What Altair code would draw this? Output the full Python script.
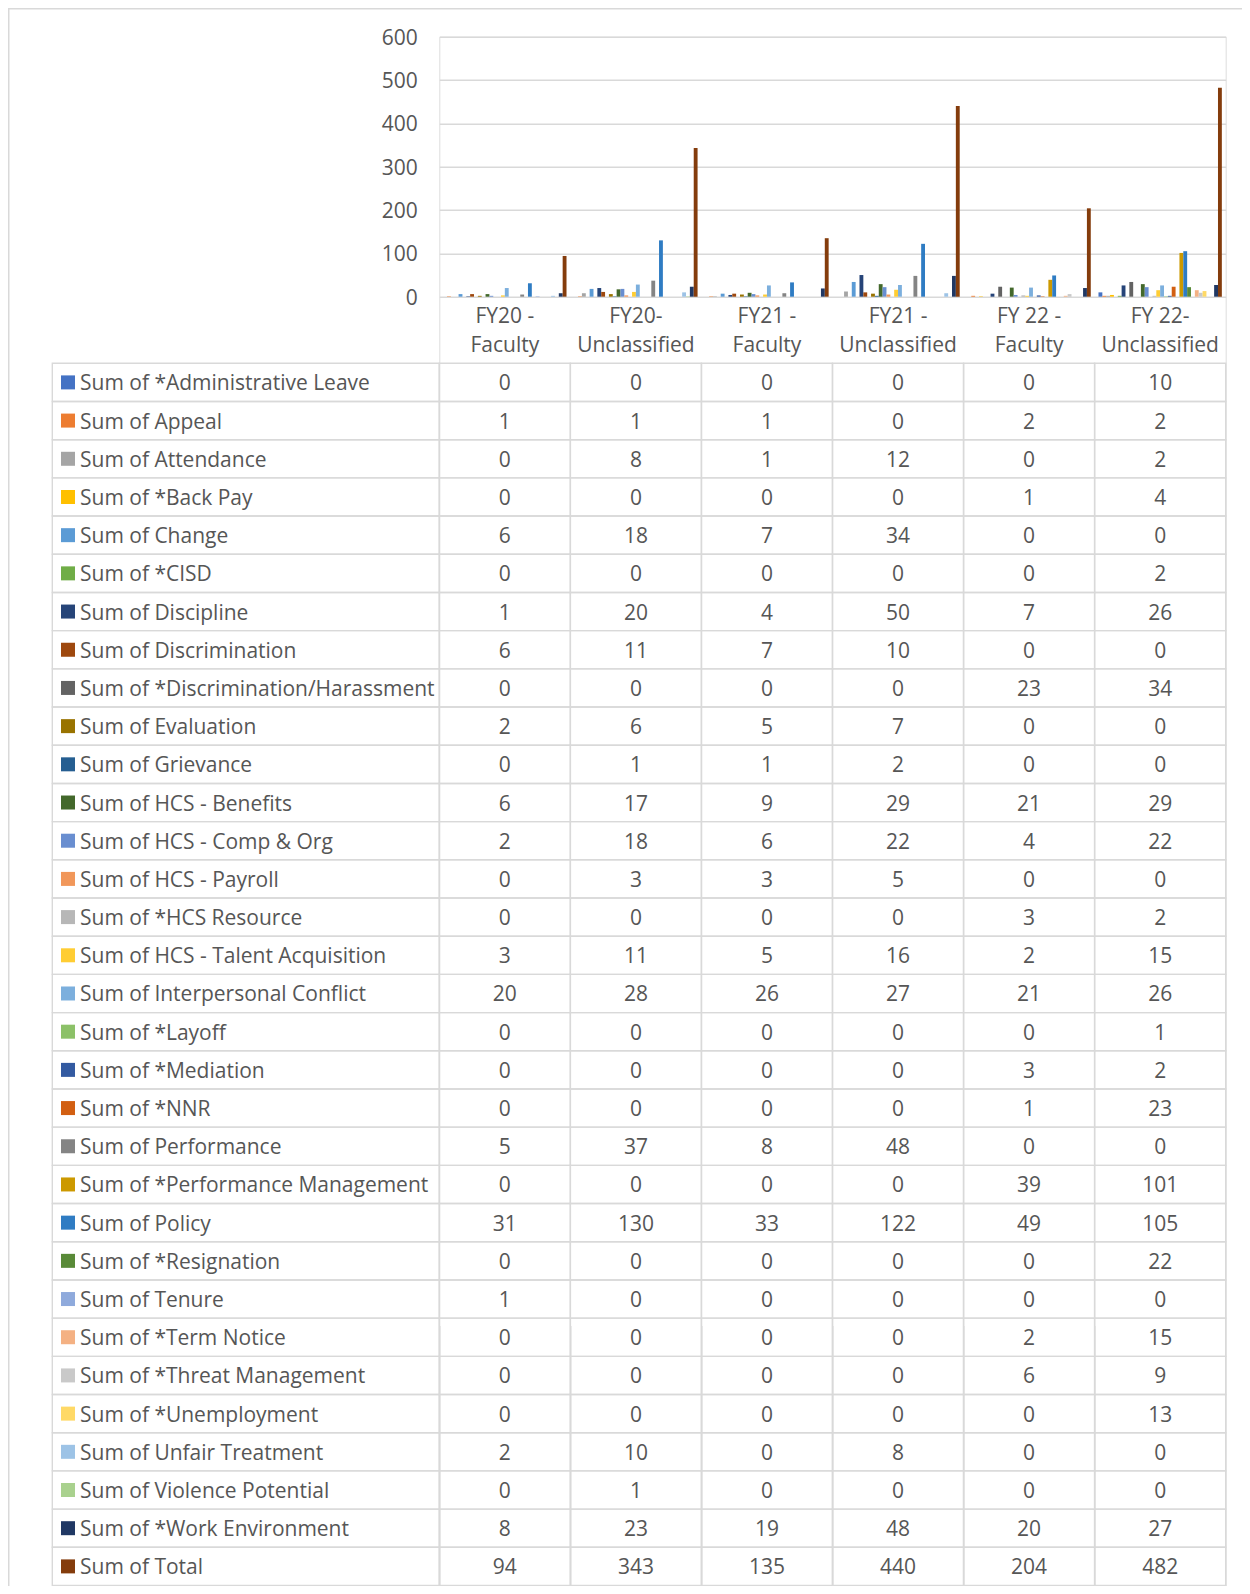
import altair as alt
import pandas as pd

# ---------------- data ----------------
categories = ["FY20 - Faculty", "FY20-Unclassified", "FY21 - Faculty",
              "FY21 - Unclassified", "FY 22 - Faculty", "FY 22-Unclassified"]
cat_line1 = ["FY20 -", "FY20-", "FY21 -", "FY21 -", "FY 22 -", "FY 22-"]
cat_line2 = ["Faculty", "Unclassified", "Faculty", "Unclassified", "Faculty", "Unclassified"]

series_names = [
    "Sum of *Administrative Leave", "Sum of Appeal", "Sum of Attendance", "Sum of *Back Pay",
    "Sum of Change", "Sum of *CISD", "Sum of Discipline", "Sum of Discrimination",
    "Sum of *Discrimination/Harassment", "Sum of Evaluation", "Sum of Grievance",
    "Sum of HCS - Benefits", "Sum of HCS - Comp & Org", "Sum of HCS - Payroll",
    "Sum of *HCS Resource", "Sum of HCS - Talent Acquisition", "Sum of Interpersonal Conflict",
    "Sum of *Layoff", "Sum of *Mediation", "Sum of *NNR", "Sum of Performance",
    "Sum of *Performance Management", "Sum of Policy", "Sum of *Resignation", "Sum of Tenure",
    "Sum of *Term Notice", "Sum of *Threat Management", "Sum of *Unemployment",
    "Sum of Unfair Treatment", "Sum of Violence Potential", "Sum of *Work Environment",
    "Sum of Total",
]

fy20_faculty      = [0, 1, 0, 0, 6, 0, 1, 6, 0, 2, 0, 6, 2, 0, 0, 3, 20, 0, 0, 0, 5, 0, 31, 0, 1, 0, 0, 0, 2, 0, 8, 94]
fy20_unclassified = [0, 1, 8, 0, 18, 0, 20, 11, 0, 6, 1, 17, 18, 3, 0, 11, 28, 0, 0, 0, 37, 0, 130, 0, 0, 0, 0, 0, 10, 1, 23, 343]
fy21_faculty      = [0, 1, 1, 0, 7, 0, 4, 7, 0, 5, 1, 9, 6, 3, 0, 5, 26, 0, 0, 0, 8, 0, 33, 0, 0, 0, 0, 0, 0, 0, 19, 135]
fy21_unclassified = [0, 0, 12, 0, 34, 0, 50, 10, 0, 7, 2, 29, 22, 5, 0, 16, 27, 0, 0, 0, 48, 0, 122, 0, 0, 0, 0, 0, 8, 0, 48, 440]
fy22_faculty      = [0, 2, 0, 1, 0, 0, 7, 0, 23, 0, 0, 21, 4, 0, 3, 2, 21, 0, 3, 1, 0, 39, 49, 0, 0, 2, 6, 0, 0, 0, 20, 204]
fy22_unclassified = [10, 2, 2, 4, 0, 2, 26, 0, 34, 0, 0, 29, 22, 0, 2, 15, 26, 1, 2, 23, 0, 101, 105, 22, 0, 15, 9, 13, 0, 0, 27, 482]

series_colors = [
    "#4472C4", "#ED7D31", "#A5A5A5", "#FFC000", "#5B9BD5", "#70AD47",
    "#264478", "#9E480E", "#636363", "#997300", "#255E91", "#43682B",
    "#698ED0", "#F1975A", "#B7B7B7", "#FFCD33", "#7CAFDD", "#8CC168",
    "#335AA1", "#D25F12", "#848484", "#CC9900", "#2F7CC3", "#598A38",
    "#8FAADC", "#F4B183", "#C9C9C9", "#FFD966", "#9DC3E6", "#A9D18E",
    "#203864", "#843C0C",
]

y_ticks = [0, 100, 200, 300, 400, 500, 600]

# ---------------- tables ----------------
columns = [fy20_faculty, fy20_unclassified, fy21_faculty, fy21_unclassified, fy22_faculty, fy22_unclassified]
rows = []
for cat, col in zip(categories, columns):
    for s, v in zip(series_names, col):
        rows.append({"category": cat, "series": s, "value": v})
long_df = pd.DataFrame(rows)
cat_df = pd.DataFrame({"category": categories,
                       "label": [a + "\n" + b for a, b in zip(cat_line1, cat_line2)]})
series_df = pd.DataFrame({"series": series_names})
one_df = pd.DataFrame({"k": [0]})

# ---------------- styling ----------------
FONT = "Open Sans"
FS = 21
TXT = "#565656"
GRID = "#D9D9D9"
GW = 1.4

W = 786.4          # plot / value-column area width
H = 1548.8         # from plot top to table bottom
PLOT_H = 260.0     # bar plot height
TABLE_TOP = 326.6  # table top (relative to plot top)

x_scale = alt.Scale(domain=categories, paddingInner=0, paddingOuter=0)
x_axis = alt.Axis(title=None, labels=False, ticks=False, domain=False, grid=True,
                  gridColor=GRID, gridWidth=GW, bandPosition=0)
x_enc = alt.X("category:N", scale=x_scale, axis=x_axis, sort=categories)
color_enc = alt.Color("series:N", scale=alt.Scale(domain=series_names, range=series_colors), legend=None)

y_tab = alt.Y("series:N", sort=series_names,
              scale=alt.Scale(domain=series_names, range=[TABLE_TOP, H], paddingInner=0, paddingOuter=0),
              axis=None)

# outer chart border
border = alt.Chart(one_df).mark_rect(fillOpacity=0, stroke=GRID, strokeWidth=1.6).encode(
    x=alt.value(-430.6), x2=alt.value(W + 200), y=alt.value(-28.0), y2=alt.value(H + 200)
)

bars = alt.Chart(long_df).mark_bar().encode(
    x=x_enc,
    xOffset=alt.XOffset("series:N", sort=series_names,
                        scale=alt.Scale(domain=series_names, paddingInner=0, paddingOuter=1)),
    y=alt.Y("value:Q",
            scale=alt.Scale(domain=[0, 600], range=[PLOT_H, 0], nice=False, zero=True),
            axis=alt.Axis(values=y_ticks, title=None, grid=True, gridColor=GRID, gridWidth=GW,
                          ticks=False, domain=False, labelPadding=22, labelFont=FONT,
                          labelFontSize=FS, labelColor=TXT, labelOffset=1.5)),
    color=color_enc,
)

xlabels = alt.Chart(cat_df).mark_text(font=FONT, fontSize=FS, color=TXT, lineBreak="\n",
                                      lineHeight=29, baseline="middle", align="center").encode(
    x=x_enc, y=alt.value(280), text="label:N"
)

cells = alt.Chart(long_df).mark_rect(fillOpacity=0, stroke=GRID, strokeWidth=GW).encode(
    x=x_enc, y=y_tab
)
header_cells = alt.Chart(series_df).mark_rect(fillOpacity=0, stroke=GRID, strokeWidth=GW).encode(
    x=alt.value(-387), x2=alt.value(0), y=y_tab
)
value_text = alt.Chart(long_df).mark_text(font=FONT, fontSize=FS, color=TXT, align="center",
                                          baseline="middle", dy=2).encode(
    x=x_enc, y=y_tab, text="value:Q"
)
header_text = alt.Chart(series_df).mark_text(font=FONT, fontSize=FS, color=TXT, align="left",
                                             baseline="middle", dy=2).encode(
    x=alt.value(-359.3), y=y_tab, text="series:N"
)
squares = alt.Chart(series_df).mark_square(size=196, opacity=1).encode(
    x=alt.value(-371.3), y=y_tab, color=color_enc
)

top = alt.layer(border, bars, xlabels)
table = alt.layer(cells, header_cells, value_text, header_text, squares)

chart = alt.layer(top, table).resolve_scale(y="independent").properties(
    width=W, height=H,
    autosize=alt.AutoSizeParams(type="none"),
    padding={"left": 431.3, "top": 28.7, "right": 16.3, "bottom": 0.2},
).configure_view(stroke=GRID, strokeWidth=GW).configure(font=FONT)

chart.save("out.html", embed_options={"renderer": "svg", "actions": False})
